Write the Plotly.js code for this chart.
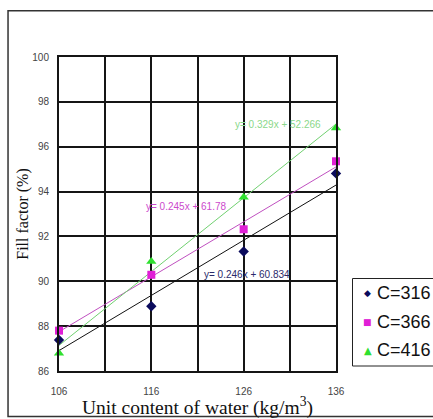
<!DOCTYPE html>
<html><head><meta charset="utf-8">
<script src="https://cdn.plot.ly/plotly-3.0.1.min.js"></script>
<style>html,body{margin:0;padding:0;background:#fff;}#chart{width:433px;height:419px;}</style>
</head><body><div id="chart"></div>
<script>
const waterX = [106, 116, 126, 136];
const seriesNames = ["C=316", "C=366", "C=416"];
const fill316 = [87.38, 88.89, 91.33, 94.81];
const fill366 = [87.80, 90.29, 92.32, 95.35];
const fill416 = [86.79, 90.88, 93.75, 96.83];
const slopes = [0.246, 0.245, 0.329];
const intercepts = [60.834, 61.78, 52.266];
const eqLabels = ["y= 0.246x + 60.834", "y= 0.245x + 61.78", "y= 0.329x + 52.266"];
const xTicks = [106, 116, 126, 136];
const yTicks = [86, 88, 90, 92, 94, 96, 98, 100];

const colors = ["#0b0b5c", "#e01fd6", "#2fe02f"];
const lineColors = ["#111111", "#c050c0", "#70d070"];
const eqColors = ["#2a2a6a", "#cc4acc", "#8ad88a"];
const symbols = ["diamond", "square", "triangle-up"];
const glyphs = ["\u25C6", "\u25A0", "\u25B2"];
const sizes = [8, 8, 9];
const allY = [fill316, fill366, fill416];

const traces = [];
for (let i = 0; i < 3; i++) {
  const x0 = waterX[0], x1 = waterX[waterX.length - 1];
  traces.push({
    x: [x0, x1], y: [slopes[i] * x0 + intercepts[i], slopes[i] * x1 + intercepts[i]],
    mode: "lines", line: {color: lineColors[i], width: 1}, showlegend: false, hoverinfo: "skip"
  });
}
for (let i = 0; i < 3; i++) {
  traces.push({
    x: waterX, y: allY[i], name: seriesNames[i], mode: "markers", showlegend: false, cliponaxis: false,
    marker: {symbol: symbols[i], color: colors[i], size: sizes[i]}
  });
}

// plot area in pixels: left 59, right 336, top 57, bottom 371
const PL = 59, PW = 277, PB = 371, PH = 314;
const px = v => (v - PL) / PW;
const py = v => (PB - v) / PH;

const eqPos = [[126.34, 90.31], [119.8, 93.33], [129.73, 96.97]];
const annotations = [];
for (let i = 0; i < 3; i++) {
  annotations.push({x: eqPos[i][0], y: eqPos[i][1], xref: "x", yref: "y", text: eqLabels[i],
    showarrow: false, font: {size: 10, color: eqColors[i]}});
}
// legend (manual, to match the tight symbol/text spacing of the original)
const legendRows = [293, 322, 350];
for (let i = 0; i < 3; i++) {
  annotations.push({x: px(367.5), y: py(legendRows[i]), xref: "paper", yref: "paper", xanchor: "center", yanchor: "middle",
    text: glyphs[i], showarrow: false, font: {family: "DejaVu Sans", size: i === 2 ? 10 : 9, color: colors[i]}});
  annotations.push({x: px(375), y: py(legendRows[i]), xref: "paper", yref: "paper", xanchor: "left", yanchor: "middle",
    text: seriesNames[i], showarrow: false, font: {family: "Arial, Liberation Sans, sans-serif", size: 18, color: "#111"}});
}

const layout = {
  width: 433, height: 419,
  margin: {l: 59, r: 97, t: 57, b: 48, autoexpand: false},
  paper_bgcolor: "#fff", plot_bgcolor: "#fff",
  showlegend: false,
  font: {family: "Arial, Liberation Sans, sans-serif", color: "#333"},
  xaxis: {
    range: [106, 136], tickvals: xTicks, ticktext: xTicks.map(String),
    showgrid: true, gridcolor: "#151515", gridwidth: 2,
    minor: {dtick: 5, tick0: 106, showgrid: true, gridcolor: "#151515", gridwidth: 2},
    showline: true, linecolor: "#151515", linewidth: 2, mirror: true,
    zeroline: false, ticks: "", ticklabelstandoff: 10,
    tickfont: {size: 10, color: "#444"},
    title: {text: "Unit content of water (kg/m<sup>3</sup>)", font: {family: "Liberation Serif, Times New Roman, serif", size: 19.5, color: "#111"}, standoff: 1}
  },
  yaxis: {
    range: [86, 100], tickvals: yTicks,
    showgrid: true, gridcolor: "#151515", gridwidth: 2,
    showline: true, linecolor: "#151515", linewidth: 2, mirror: true,
    zeroline: false, ticks: "", ticklabelstandoff: 6,
    tickfont: {size: 10, color: "#444"},
    title: {text: "Fill factor (%)", font: {family: "Liberation Serif, Times New Roman, serif", size: 16, color: "#111"}, standoff: 0}
  },
  annotations: annotations,
  shapes: [
    {type: "rect", xref: "paper", yref: "paper", x0: -0.184, x1: 1.4, y0: -0.145, y1: 1.147,
     line: {color: "#333", width: 1.5}, fillcolor: "rgba(0,0,0,0)", layer: "below"},
    {type: "rect", xref: "paper", yref: "paper", x0: px(352.5), x1: 1.5, y0: py(366), y1: py(278.5),
     line: {color: "#222", width: 1}, fillcolor: "#fff", layer: "below"}
  ]
};
Plotly.newPlot("chart", traces, layout, {displayModeBar: false, staticPlot: true});
</script>
</body></html>
